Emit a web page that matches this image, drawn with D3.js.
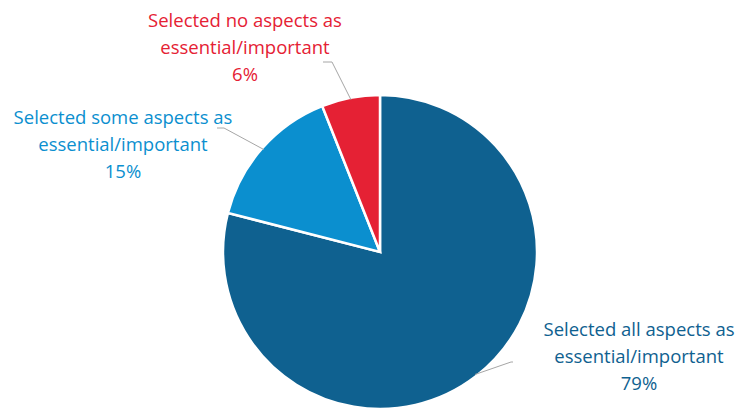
<!DOCTYPE html>
<html>
<head>
<meta charset="utf-8">
<script src="https://cdn.jsdelivr.net/npm/d3@7"></script>
<style>
  body { margin: 0; background: #fff; }
  text { font-family: "Open Sans", "Noto Sans", sans-serif; }
</style>
</head>
<body>
<div id="chart"></div>
<script>
const categories = ["Selected all aspects as essential/important", "Selected some aspects as essential/important", "Selected no aspects as essential/important"];
const values = [79, 15, 6];
const colors = ["#0f6190", "#0b8fcf", "#e52134"];

const width = 737, height = 408;
const cx = 380, cy = 252, radius = 157;

const svg = d3.select("#chart")
  .append("svg")
  .attr("width", width)
  .attr("height", height);

const g = svg.append("g").attr("transform", `translate(${cx},${cy})`);

const pie = d3.pie().sort(null).value(d => d.value);
const arc = d3.arc().innerRadius(0).outerRadius(radius);
const data = pie(categories.map((c, i) => ({ name: c, value: values[i], color: colors[i] })));

g.selectAll("path.slice")
  .data(data)
  .enter()
  .append("path")
  .attr("class", "slice")
  .attr("d", arc)
  .attr("fill", d => d.data.color)
  .attr("stroke", "#fff")
  .attr("stroke-width", 2.5);

// label anchors (relative to page) and leader line end points
const labelPos = [
  { x: 639, y: 336, lx: 513, ly: 362, hx: 511 },
  { x: 123, y: 124, lx: 217, ly: 128, hx: 224 },
  { x: 245, y: 27, lx: 323, ly: 62, hx: 332 }
];

// leader lines
data.forEach((d, i) => {
  const mid = (d.startAngle + d.endAngle) / 2;
  const r = radius - 2;
  const px = cx + r * Math.sin(mid);
  const py = cy - r * Math.cos(mid);
  const p = labelPos[i];
  svg.append("polyline")
    .attr("points", `${px},${py} ${p.hx},${p.ly} ${p.lx},${p.ly}`)
    .attr("fill", "none")
    .attr("stroke", "#a6a6a6")
    .attr("stroke-width", 1);
});

// labels
data.forEach((d, i) => {
  const p = labelPos[i];
  const parts = d.data.name.split(" essential/important");
  const lines = [parts[0], "essential/important", d.data.value + "%"];
  const t = svg.append("text")
    .attr("text-anchor", "middle")
    .attr("fill", d.data.color)
    .style("font-size", "18.5px");
  lines.forEach((ln, j) => {
    t.append("tspan")
      .attr("x", p.x)
      .attr("y", p.y + j * 27)
      .text(ln);
  });
});
</script>
</body>
</html>
